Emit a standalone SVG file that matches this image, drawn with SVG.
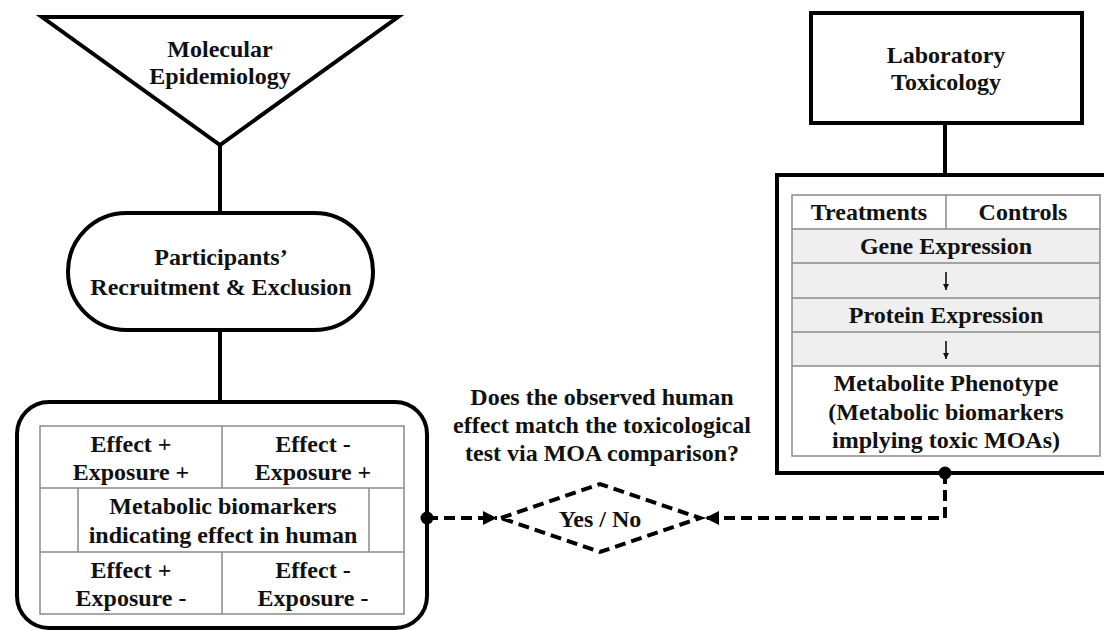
<svg xmlns="http://www.w3.org/2000/svg" width="1104" height="630" viewBox="0 0 1104 630">
<defs>
<style>
.t{font-family:"Liberation Serif","Times New Roman",serif;font-weight:bold;font-size:24px;fill:#111;text-anchor:middle}
.thick{fill:none;stroke:#000;stroke-width:4}
.grid{fill:none;stroke:#8a8a8a;stroke-width:1.5}
.dash{fill:none;stroke:#000;stroke-width:4;stroke-dasharray:11 6}
.gray{fill:#efefef}
.thin{fill:none;stroke:#111;stroke-width:1.6}
</style>
<marker id="ah" viewBox="0 0 10 10" refX="10" refY="5" markerWidth="3.5" markerHeight="3.5" orient="auto" markerUnits="strokeWidth">
<path d="M0,0 L10,5 L0,10 z" fill="#000"/>
</marker>
<marker id="sh" viewBox="0 0 10 10" refX="10" refY="5" markerWidth="4" markerHeight="4" orient="auto" markerUnits="strokeWidth">
<path d="M0,0 L10,5 L0,10 z" fill="#111"/>
</marker>
</defs>
<rect width="1104" height="630" fill="#fff"/>

<g id="connectors">
<line x1="220" y1="145" x2="220" y2="213" class="thick"/>
<line x1="220" y1="330" x2="220" y2="402" class="thick"/>
<line x1="945" y1="123" x2="945" y2="175" class="thick"/>
<path d="M427,518 H497" class="dash" marker-end="url(#ah)"/>
<path d="M945,473 V518 H705" class="dash" marker-end="url(#ah)"/>
<circle cx="427" cy="518" r="6.5" fill="#000"/>
<circle cx="945" cy="473" r="6.5" fill="#000"/>
</g>

<g id="molecular-epidemiology">
<polygon points="42,17 398,17 220,145" class="thick" fill="#fff" stroke-linejoin="miter"/>
<text class="t" x="220" y="57">Molecular</text>
<text class="t" x="220" y="84">Epidemiology</text>
</g>

<g id="participants">
<rect x="68" y="213" width="305" height="117" rx="58.5" ry="58.5" class="thick" fill="#f0f0f0"/>
<text class="t" x="221" y="265">Participants’</text>
<text class="t" x="221" y="295">Recruitment &amp; Exclusion</text>
</g>

<g id="human-box">
<rect x="17" y="402" width="410" height="226" rx="32" ry="32" class="thick" fill="#fff"/>
<rect x="40" y="426" width="364" height="188" class="grid"/>
<line x1="40" y1="488" x2="404" y2="488" class="grid"/>
<line x1="40" y1="552" x2="404" y2="552" class="grid"/>
<line x1="222" y1="426" x2="222" y2="488" class="grid"/>
<line x1="222" y1="552" x2="222" y2="614" class="grid"/>
<line x1="78" y1="488" x2="78" y2="552" class="grid"/>
<line x1="369" y1="488" x2="369" y2="552" class="grid"/>
<text class="t" x="131" y="452">Effect +</text>
<text class="t" x="131" y="480">Exposure +</text>
<text class="t" x="313" y="452">Effect -</text>
<text class="t" x="313" y="480">Exposure +</text>
<text class="t" x="223" y="514">Metabolic biomarkers</text>
<text class="t" x="223" y="543">indicating effect in human</text>
<text class="t" x="131" y="578">Effect +</text>
<text class="t" x="131" y="606">Exposure -</text>
<text class="t" x="313" y="578">Effect -</text>
<text class="t" x="313" y="606">Exposure -</text>
</g>

<g id="question">
<text class="t" x="602" y="405">Does the observed human</text>
<text class="t" x="602" y="433">effect match the toxicological</text>
<text class="t" x="602" y="461">test via MOA comparison?</text>
</g>

<g id="decision">
<polygon points="501,518 600,484 700,518 600,552" class="dash" fill="#fff" stroke-dasharray="12 6"/>
<text class="t" x="600" y="527">Yes / No</text>
</g>

<g id="laboratory-toxicology">
<rect x="811" y="13" width="271" height="110" class="thick" fill="#fff"/>
<text class="t" x="946" y="63">Laboratory</text>
<text class="t" x="946" y="90">Toxicology</text>
</g>

<g id="tox-box">
<rect x="777" y="175" width="340" height="298" class="thick" fill="#fff"/>
<rect x="792" y="229" width="308" height="137" class="gray"/>
<rect x="792" y="195" width="308" height="261" class="grid"/>
<line x1="946" y1="195" x2="946" y2="229" class="grid"/>
<line x1="792" y1="229" x2="1100" y2="229" class="grid"/>
<line x1="792" y1="263" x2="1100" y2="263" class="grid"/>
<line x1="792" y1="298" x2="1100" y2="298" class="grid"/>
<line x1="792" y1="332" x2="1100" y2="332" class="grid"/>
<line x1="792" y1="366" x2="1100" y2="366" class="grid"/>
<text class="t" x="869" y="220">Treatments</text>
<text class="t" x="1023" y="220">Controls</text>
<text class="t" x="946" y="254">Gene Expression</text>
<line x1="946" y1="272" x2="946" y2="290" class="thin" marker-end="url(#sh)"/>
<text class="t" x="946" y="323">Protein Expression</text>
<line x1="946" y1="341" x2="946" y2="359" class="thin" marker-end="url(#sh)"/>
<text class="t" x="946" y="391">Metabolite Phenotype</text>
<text class="t" x="946" y="420">(Metabolic biomarkers</text>
<text class="t" x="946" y="448">implying toxic MOAs)</text>
</g>
</svg>
